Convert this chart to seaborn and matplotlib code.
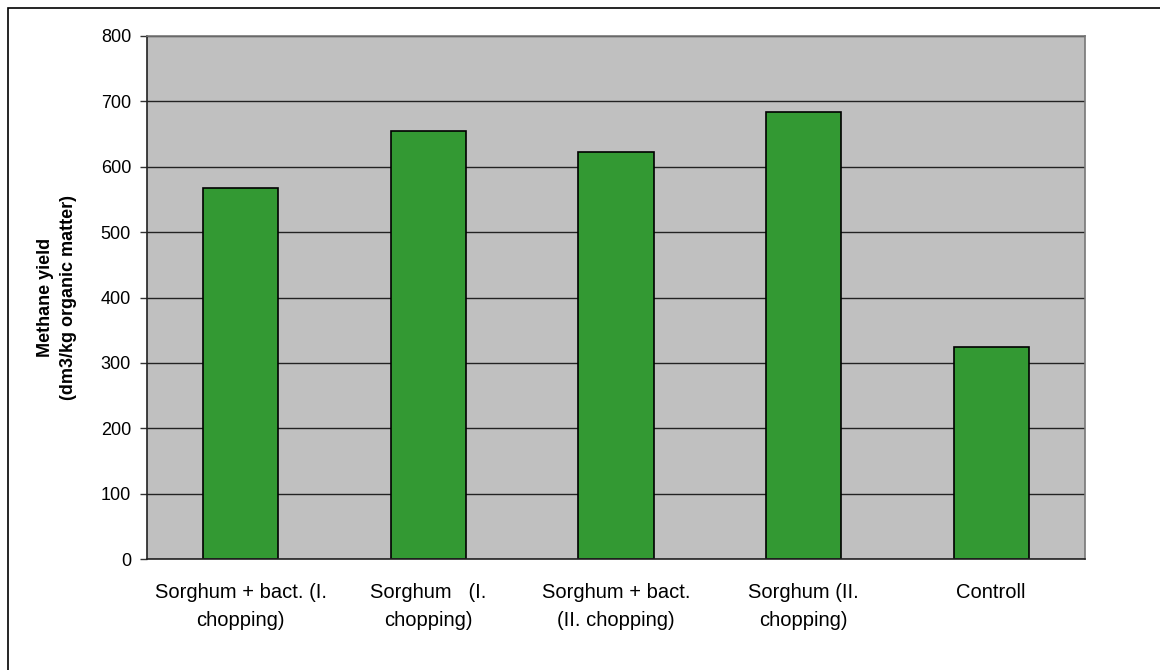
import matplotlib
matplotlib.use("Agg")
import matplotlib.pyplot as plt
from matplotlib.patches import Rectangle
import seaborn as sns
import pandas as pd
import numpy as np

categories = [
    "Sorghum + bact. (I.\nchopping)",
    "Sorghum   (I.\nchopping)",
    "Sorghum + bact.\n(II. chopping)",
    "Sorghum (II.\nchopping)",
    "Controll",
]
methane_yield = [568, 654, 623, 683, 324]
y_ticks = [0, 100, 200, 300, 400, 500, 600, 700, 800]

sns.set_style("white")
plt.rcParams["font.family"] = ["Liberation Sans", "DejaVu Sans"]
plt.rcParams["text.color"] = "black"
plt.rcParams["axes.labelcolor"] = "black"
plt.rcParams["xtick.color"] = "black"
plt.rcParams["ytick.color"] = "black"

df = pd.DataFrame({"treatment": categories, "yield": methane_yield})

fig = plt.figure(figsize=(11.6, 6.7), dpi=100)
ax = fig.add_axes([147 / 1160, 1 - 559 / 670, (1085 - 147) / 1160, (559 - 36) / 670])

sns.barplot(data=df, x="treatment", y="yield", color="#339933",
            saturation=1, width=0.4, edgecolor="black", linewidth=1.2, ax=ax)

ax.set_facecolor("#C0C0C0")
ax.set_ylim(0, 800)
ax.set_xlim(-0.5, len(categories) - 0.5)
ax.set_yticks(y_ticks)
ax.yaxis.grid(True, color="#222222", linewidth=1.0)
ax.set_axisbelow(True)

# category boundaries carry the tick marks; labels sit at the centres
ax.set_xticks(np.arange(len(categories)))
ax.set_xticklabels(categories, fontsize=14.5, linespacing=1.6)
ax.set_xticks(np.arange(len(categories) + 1) - 0.5, minor=True)
ax.tick_params(axis="x", which="major", length=0, pad=17)
ax.tick_params(axis="x", which="minor", length=5, width=1, color="#333333", direction="out")
ax.tick_params(axis="y", which="major", length=5, width=1, color="#333333",
               direction="out", labelsize=13, pad=6.5, left=True)

for side in ["left", "bottom"]:
    ax.spines[side].set_color("#222222")
    ax.spines[side].set_linewidth(1.2)
for side in ["right", "top"]:
    ax.spines[side].set_color("#777777")
    ax.spines[side].set_linewidth(1.2)

ax.set_xlabel("")
ax.set_ylabel("Methane yield\n(dm3/kg organic matter)", fontsize=13,
              fontweight="bold", linespacing=1.5, labelpad=17)

# outer frame of the chart area
fig.patches.append(Rectangle((8 / 1160, -0.1), 1.2, 1 - 8 / 670 + 0.1,
                             transform=fig.transFigure, fill=False,
                             edgecolor="black", linewidth=1.2))

fig.savefig("out.png", dpi=100)
